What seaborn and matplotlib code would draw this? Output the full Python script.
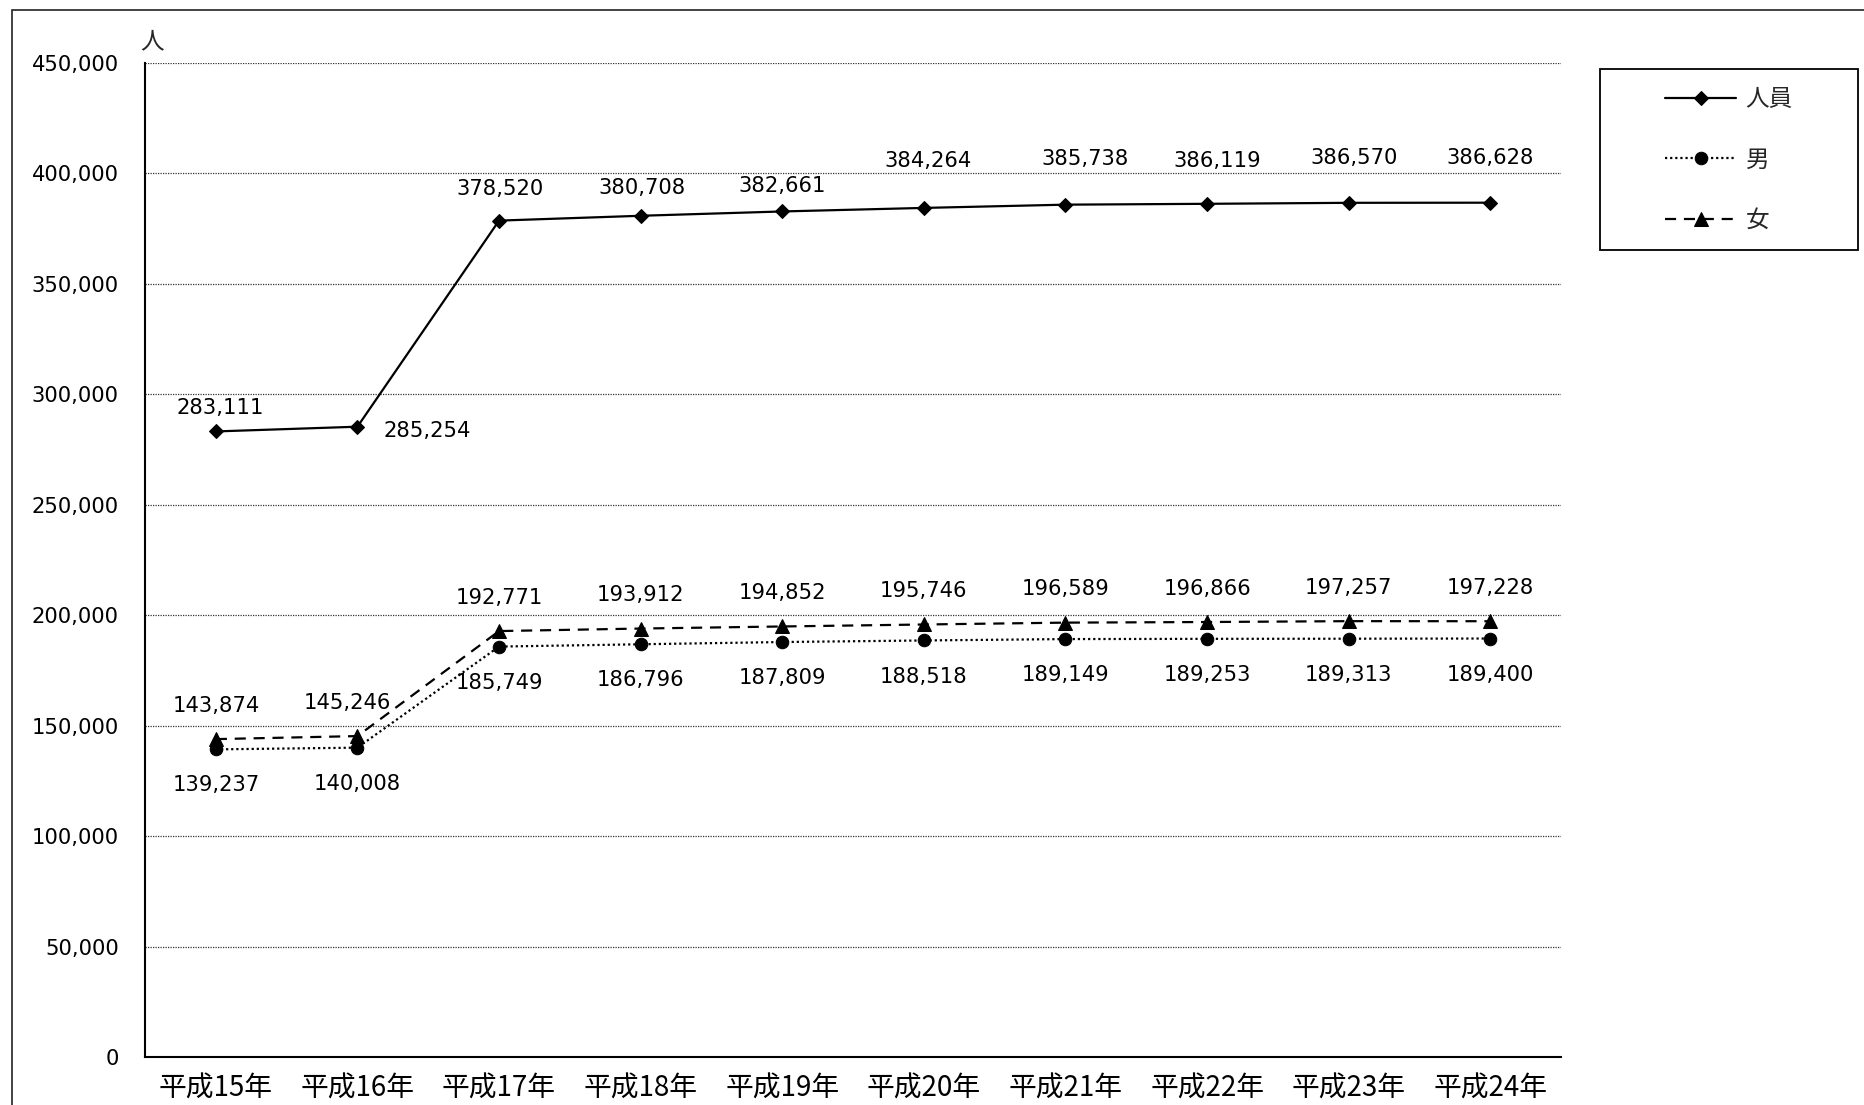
import matplotlib
matplotlib.use("Agg")
import matplotlib.pyplot as plt
import pandas as pd
import seaborn as sns
from matplotlib.patches import Rectangle
from matplotlib.ticker import FuncFormatter, MultipleLocator

sns.set_theme(style="white")
plt.rcParams['font.family'] = ['Noto Sans CJK JP', 'DejaVu Sans']

# data
years = ['平成15年', '平成16年', '平成17年', '平成18年', '平成19年',
         '平成20年', '平成21年', '平成22年', '平成23年', '平成24年']
total = [283111, 285254, 378520, 380708, 382661, 384264, 385738, 386119, 386570, 386628]
male = [139237, 140008, 185749, 186796, 187809, 188518, 189149, 189253, 189313, 189400]
female = [143874, 145246, 192771, 193912, 194852, 195746, 196589, 196866, 197257, 197228]

df = pd.DataFrame({'idx': range(len(years)), 'year': years,
                   '人員': total, '男': male, '女': female})

fig = plt.figure(figsize=(18.64, 11.05), dpi=100)
ax = fig.add_axes([0.0778, 0.0434, 0.7597, 0.8999])

sns.lineplot(data=df, x='idx', y='人員', ax=ax, color='black', lw=1.6,
             marker='D', ms=7, mec='black', mfc='black', label='人員')
sns.lineplot(data=df, x='idx', y='男', ax=ax, color='black', lw=1.6,
             linestyle=(0, (1, 1.3)), marker='o', ms=9, mec='black', mfc='black',
             label='男')
sns.lineplot(data=df, x='idx', y='女', ax=ax, color='black', lw=1.6,
             linestyle=(0, (5, 3.5)), marker='^', ms=10, mec='black', mfc='black',
             label='女')

# data labels (offsets in points)
num_font = ['DejaVu Sans']
total_off = [(3, 17), (50, -3), (1, 23), (1, 20), (0, 18),
             (3, 34), (14, 33), (7, 31), (4, 32), (0, 32)]
fs = 15.2
for i, v in enumerate(total):
    ax.annotate(f"{v:,}", (i, v), xytext=total_off[i], textcoords='offset points',
                ha='center', va='center', fontsize=fs, color='black', family=num_font)
for i, v in enumerate(male):
    ax.annotate(f"{v:,}", (i, v), xytext=(0, -26), textcoords='offset points',
                ha='center', va='center', fontsize=fs, color='black', family=num_font)
for i, v in enumerate(female):
    dx = -7 if i == 1 else 0
    ax.annotate(f"{v:,}", (i, v), xytext=(dx, 24), textcoords='offset points',
                ha='center', va='center', fontsize=fs, color='black', family=num_font)

ax.set_xlim(-0.5, len(years) - 0.5)
ax.set_ylim(0, 450000)
ax.yaxis.set_major_locator(MultipleLocator(50000))
ax.yaxis.set_major_formatter(FuncFormatter(lambda v, p: f"{int(v):,}"))
ax.set_xticks(range(len(years)))
ax.set_xticklabels(years)
ax.tick_params(axis='y', length=0, pad=19, labelsize=fs, colors='black')
ax.tick_params(axis='x', length=0, pad=12, labelsize=20, colors='black')
for t in ax.get_yticklabels():
    t.set_family(num_font)
ax.set_xlabel('')
ax.set_ylabel('')
ax.grid(axis='y', linestyle=(0, (1, 1)), color='#333333', lw=0.9)
ax.set_axisbelow(True)
for s in ['top', 'right']:
    ax.spines[s].set_visible(False)
for s in ['left', 'bottom']:
    ax.spines[s].set_color('black')
    ax.spines[s].set_linewidth(1.5)

fig.text(152 / 1864, 1 - 42 / 1105, '人', fontsize=17, ha='center', va='center')

# legend box drawn separately so its padding matches the reference
leg = ax.legend(loc='center', bbox_to_anchor=(0.9276, 0.8552),
                bbox_transform=fig.transFigure, frameon=False, fontsize=17,
                handlelength=3.0, handletextpad=0.4, labelspacing=1.58)
fig.patches.append(Rectangle((1600 / 1864, 1 - 250 / 1105), 258 / 1864, 181 / 1105,
                             transform=fig.transFigure, fill=False,
                             edgecolor='black', lw=1.3))
# outer border of the figure
fig.patches.append(Rectangle((12 / 1864, -0.1), 1.2, 1.1 - 10 / 1105,
                             transform=fig.transFigure, fill=False,
                             edgecolor='#222222', lw=1.2))

fig.savefig('out.png', dpi=100)
